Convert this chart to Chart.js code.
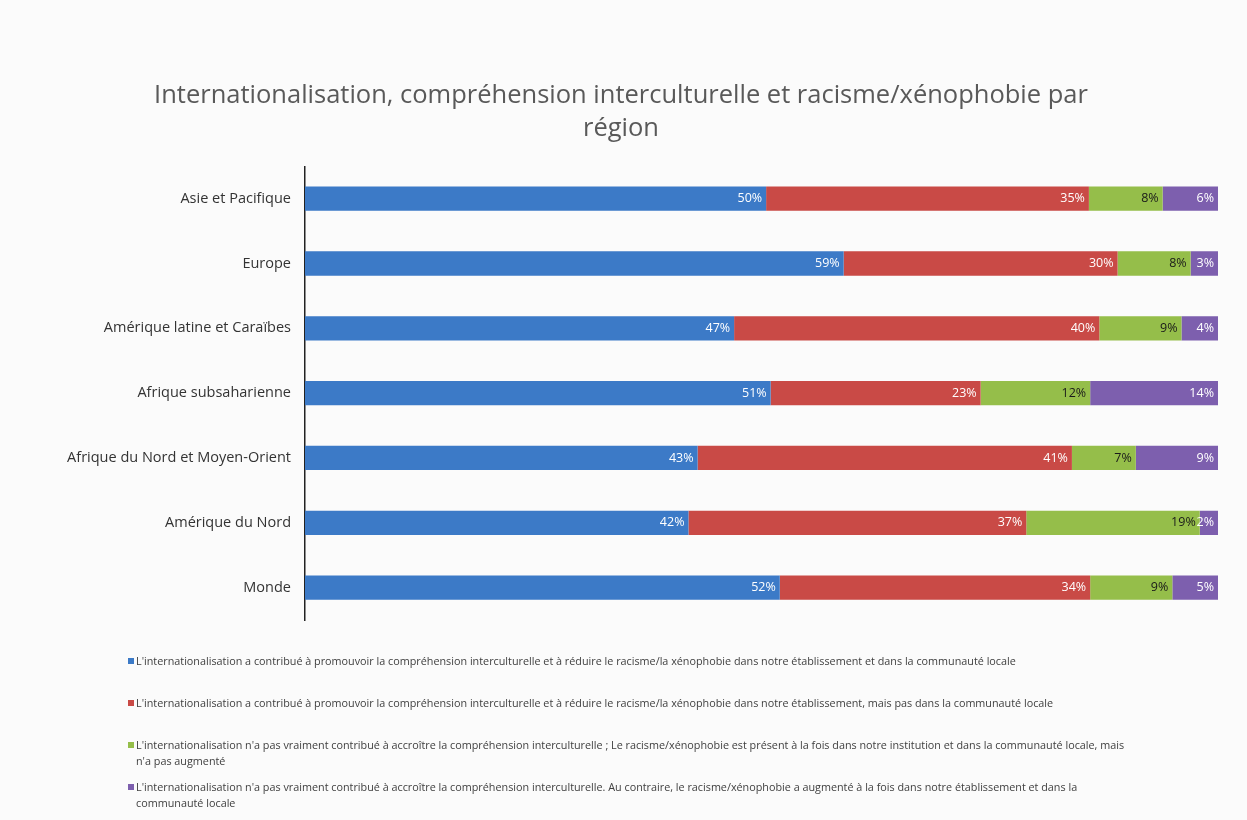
<!DOCTYPE html>
<html>
<head>
<meta charset="utf-8">
<script src="https://cdn.jsdelivr.net/npm/chart.js@4.4.1/dist/chart.umd.min.js"></script>
<style>
  html, body { margin: 0; padding: 0; background: #fbfbfb; }
  #wrap { position: relative; width: 1247px; height: 820px; }
  #legend { position: absolute; left: 128px; top: 653px; width: 1010px;
    font-family: "Open Sans", sans-serif; font-size: 10.8px; color: #404040; line-height: 16px; }
  #legend .item { position: relative; height: 42px; padding-left: 8px; }
  #legend .box { position: absolute; left: 0; top: 5px; width: 6px; height: 6px; }
</style>
</head>
<body>
<div id="wrap">
  <canvas id="myChart" width="1247" height="820"></canvas>
  <div id="legend"></div>
</div>
<script>
// regions, top to bottom
const regions = ['Asie et Pacifique', 'Europe', 'Amérique latine et Caraïbes', 'Afrique subsaharienne',
  'Afrique du Nord et Moyen-Orient', 'Amérique du Nord', 'Monde'];

// % of answers per region
const promoBoth   = [50, 59, 47, 51, 43, 42, 52];
const promoInst   = [35, 30, 40, 23, 41, 37, 34];
const pasVraiment = [8, 8, 9, 12, 7, 19, 9];
const augmente    = [6, 3, 4, 14, 9, 2, 5];

const seriesNames = [
  "L'internationalisation a contribué à promouvoir la compréhension interculturelle et à réduire le racisme/la xénophobie dans notre établissement et dans la communauté locale",
  "L'internationalisation a contribué à promouvoir la compréhension interculturelle et à réduire le racisme/la xénophobie dans notre établissement, mais pas dans la communauté locale",
  "L'internationalisation n'a pas vraiment contribué à accroître la compréhension interculturelle ; Le racisme/xénophobie est présent à la fois dans notre institution et dans la communauté locale, mais n'a pas augmenté",
  "L'internationalisation n'a pas vraiment contribué à accroître la compréhension interculturelle. Au contraire, le racisme/xénophobie a augmenté à la fois dans notre établissement et dans la communauté locale"
];

const colors = ['#3c7ac7', '#c94a46', '#95be4a', '#7d5fae'];
const labelColors = ['#ffffff', '#ffffff', '#1a1a1a', '#ffffff'];

const allSeries = [promoBoth, promoInst, pasVraiment, augmente];
// 100% stacked: each row scaled to its total
const totals = regions.map((r, i) => allSeries.reduce((s, a) => s + a[i], 0));

const datasets = allSeries.map((vals, k) => ({
  label: seriesNames[k],
  data: vals.map((v, i) => v / totals[i] * 100),
  raw: vals,
  backgroundColor: colors[k],
  barPercentage: 0.75,
  categoryPercentage: 0.5
}));

// value labels at the inner end of each segment
const valueLabels = {
  id: 'valueLabels',
  afterDatasetsDraw(chart) {
    const ctx = chart.ctx;
    ctx.save();
    ctx.font = '12.5px "Open Sans", sans-serif';
    ctx.textAlign = 'right';
    ctx.textBaseline = 'middle';
    chart.data.datasets.forEach((ds, k) => {
      const meta = chart.getDatasetMeta(k);
      meta.data.forEach((bar, i) => {
        ctx.fillStyle = labelColors[k];
        ctx.fillText(ds.raw[i] + '%', bar.x - 4, bar.y);
      });
    });
    ctx.restore();
  }
};

Chart.defaults.font.family = '"Open Sans", sans-serif';

new Chart(document.getElementById('myChart'), {
  type: 'bar',
  data: { labels: regions, datasets: datasets },
  options: {
    indexAxis: 'y',
    responsive: false,
    animation: false,
    layout: { padding: { top: 60, right: 29, bottom: 200, left: 24 } },
    scales: {
      x: { stacked: true, min: 0, max: 100, display: false },
      y: {
        stacked: true,
        grid: { display: false },
        border: { display: true, color: '#222', width: 1.5 },
        ticks: { color: '#333', font: { size: 14.5 }, padding: 6 },
        afterFit(scale) { scale.width = 281; }
      }
    },
    plugins: {
      legend: { display: false },
      tooltip: { enabled: false },
      title: {
        display: true,
        text: ['Internationalisation, compréhension interculturelle et racisme/xénophobie par', 'région'],
        color: '#595959',
        font: { size: 25.5, weight: 'normal', lineHeight: 1.3 },
        padding: { top: 19, bottom: 21 }
      }
    }
  },
  plugins: [valueLabels]
});

// legend, one series per line
const legend = document.getElementById('legend');
seriesNames.forEach((name, k) => {
  const item = document.createElement('div');
  item.className = 'item';
  const box = document.createElement('span');
  box.className = 'box';
  box.style.background = colors[k];
  item.appendChild(box);
  item.appendChild(document.createTextNode(name));
  legend.appendChild(item);
});
</script>
</body>
</html>
